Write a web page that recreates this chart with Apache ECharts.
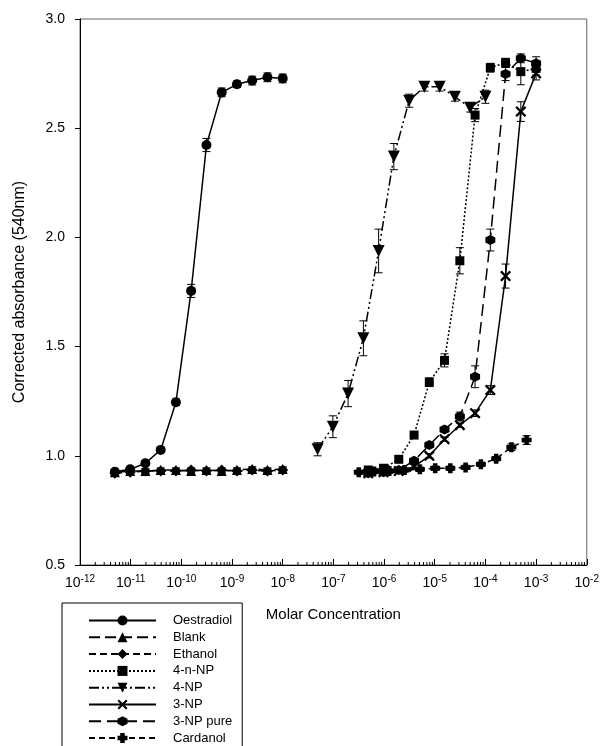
<!DOCTYPE html>
<html>
<head>
<meta charset="utf-8">
<script src="https://cdn.jsdelivr.net/npm/echarts@6/dist/echarts.min.js"></script>
<style>
  html, body { margin: 0; padding: 0; background: #fff; }
  #chart { width: 602px; height: 746px; }
</style>
</head>
<body>
<div id="chart"></div>
<script>
// concentrations (M), 2-fold dilution series
const oestradiolConc = [4.88e-12, 9.77e-12, 1.95e-11, 3.91e-11, 7.81e-11, 1.56e-10, 3.13e-10, 6.25e-10, 1.25e-9, 2.5e-9, 5e-9, 1e-8];
const fourNpConc = [4.88e-8, 9.77e-8, 1.95e-7, 3.91e-7, 7.81e-7, 1.56e-6, 3.13e-6, 6.25e-6, 1.25e-5, 2.5e-5, 5e-5, 1e-4];
const npConc = [4.88e-7, 9.77e-7, 1.95e-6, 3.91e-6, 7.81e-6, 1.56e-5, 3.13e-5, 6.25e-5, 1.25e-4, 2.5e-4, 5e-4, 1e-3];
const cardanolConc = [3.17e-7, 6.35e-7, 1.27e-6, 2.54e-6, 5.08e-6, 1.02e-5, 2.03e-5, 4.06e-5, 8.13e-5, 1.63e-4, 3.25e-4, 6.5e-4];

// corrected absorbance and SE
const oestradiol = [0.927, 0.938, 0.966, 1.027, 1.245, 1.755, 2.423, 2.664, 2.701, 2.718, 2.733, 2.728];
const oestradiolErr = [0.01, 0.01, 0.01, 0.01, 0.015, 0.03, 0.03, 0.02, 0.015, 0.02, 0.02, 0.02];
const blank = [0.925, 0.93, 0.93, 0.935, 0.935, 0.93, 0.935, 0.93, 0.935, 0.94, 0.935, 0.94];
const blankErr = [0.01, 0.01, 0.01, 0.01, 0.01, 0.01, 0.01, 0.01, 0.01, 0.01, 0.01, 0.01];
const ethanol = [0.92, 0.925, 0.93, 0.93, 0.93, 0.935, 0.93, 0.935, 0.93, 0.935, 0.93, 0.935];
const ethanolErr = [0.01, 0.01, 0.01, 0.01, 0.01, 0.01, 0.01, 0.01, 0.01, 0.01, 0.01, 0.01];
const fourNNp = [0.935, 0.943, 0.984, 1.095, 1.337, 1.437, 1.893, 2.56, 2.777, 2.80, 2.759, 2.774];
const fourNNpErr = [0.01, 0.01, 0.01, 0.015, 0.02, 0.03, 0.06, 0.03, 0.02, 0.02, 0.06, 0.03];
const fourNp = [1.03, 1.133, 1.285, 1.538, 1.938, 2.37, 2.626, 2.69, 2.69, 2.644, 2.594, 2.644];
const fourNpErr = [0.03, 0.05, 0.06, 0.08, 0.1, 0.06, 0.03, 0.02, 0.02, 0.02, 0.02, 0.03];
const threeNp = [0.92, 0.925, 0.93, 0.95, 1.0, 1.076, 1.14, 1.195, 1.301, 1.823, 2.576, 2.751];
const threeNpErr = [0.01, 0.01, 0.01, 0.01, 0.01, 0.01, 0.01, 0.015, 0.02, 0.055, 0.045, 0.03];
const threeNpPure = [0.92, 0.925, 0.935, 0.977, 1.049, 1.12, 1.18, 1.362, 1.988, 2.748, 2.82, 2.797];
const threeNpPureErr = [0.01, 0.01, 0.01, 0.01, 0.01, 0.01, 0.02, 0.05, 0.05, 0.03, 0.02, 0.03];
const cardanol = [0.925, 0.928, 0.93, 0.935, 0.938, 0.943, 0.943, 0.947, 0.961, 0.987, 1.039, 1.072];
const cardanolErr = [0.01, 0.01, 0.01, 0.01, 0.01, 0.01, 0.01, 0.01, 0.01, 0.01, 0.015, 0.02];

const xDecades = [-12, -11, -10, -9, -8, -7, -6, -5, -4, -3, -2];

const FONT = "'Liberation Sans', Arial, sans-serif";

const symX = 'path://M-4,-2.8 L-2.8,-4 L0,-1.2 L2.8,-4 L4,-2.8 L1.2,0 L4,2.8 L2.8,4 L0,1.2 L-2.8,4 L-4,2.8 L-1.2,0 Z';
const symHex = 'path://M0,-10 L8.7,-5 L8.7,5 L0,10 L-8.7,5 L-8.7,-5 Z';
const symPlus = 'path://M-1.8,-4 L1.8,-4 L1.8,-1.8 L4,-1.8 L4,1.8 L1.8,1.8 L1.8,4 L-1.8,4 L-1.8,1.8 L-4,1.8 L-4,-1.8 L-1.8,-1.8 Z';

const defs = [
  { name: 'Oestradiol', x: oestradiolConc, y: oestradiol, e: oestradiolErr, symbol: 'circle', size: 10, dash: 'solid' },
  { name: 'Blank', x: oestradiolConc, y: blank, e: blankErr, symbol: 'triangle', size: 10, dash: [11, 5] },
  { name: 'Ethanol', x: oestradiolConc, y: ethanol, e: ethanolErr, symbol: 'diamond', size: 11, dash: [7, 4] },
  { name: '4-n-NP', x: npConc, y: fourNNp, e: fourNNpErr, symbol: 'rect', size: 9, dash: [2, 2] },
  { name: '4-NP', x: fourNpConc, y: fourNp, e: fourNpErr, symbol: 'triangle', size: 12, rotate: 180, dash: [10, 3, 2, 3, 2, 3] },
  { name: '3-NP', x: npConc, y: threeNp, e: threeNpErr, symbol: symX, size: 11, dash: 'solid' },
  { name: '3-NP pure', x: npConc, y: threeNpPure, e: threeNpPureErr, symbol: symHex, size: 10, dash: [12, 6] },
  { name: 'Cardanol', x: cardanolConc, y: cardanol, e: cardanolErr, symbol: symPlus, size: 10, dash: [6, 4] }
];

const series = [];
defs.forEach(d => {
  series.push({
    name: d.name + ' err',
    type: 'custom',
    z: 1,
    silent: true,
    encode: { x: 0, y: [1, 2] },
    data: d.x.map((c, i) => [c, d.y[i] - d.e[i], d.y[i] + d.e[i]]),
    renderItem: (params, api) => {
      const lo = api.coord([api.value(0), api.value(1)]);
      const hi = api.coord([api.value(0), api.value(2)]);
      const w = 4;
      const st = { stroke: '#000', lineWidth: 1 };
      return {
        type: 'group',
        children: [
          { type: 'line', shape: { x1: lo[0], y1: lo[1], x2: hi[0], y2: hi[1] }, style: st },
          { type: 'line', shape: { x1: lo[0] - w, y1: lo[1], x2: lo[0] + w, y2: lo[1] }, style: st },
          { type: 'line', shape: { x1: hi[0] - w, y1: hi[1], x2: hi[0] + w, y2: hi[1] }, style: st }
        ]
      };
    }
  });
  series.push({
    name: d.name,
    type: 'line',
    z: 3,
    data: d.x.map((c, i) => [c, d.y[i]]),
    symbol: d.symbol,
    symbolSize: d.size,
    symbolRotate: d.rotate || 0,
    showAllSymbol: true,
    animation: false,
    lineStyle: { color: '#000', width: 1.5, type: d.dash },
    itemStyle: { color: '#000', borderWidth: 0 }
  });
});

// minor ticks on the log x axis (2..9 in every decade)
const minorTicks = [];
xDecades.slice(0, -1).forEach(n => {
  for (let k = 2; k <= 9; k++) minorTicks.push([k * Math.pow(10, n), 0.5]);
});
series.push({
  name: 'minor',
  type: 'custom',
  silent: true,
  z: 5,
  data: minorTicks,
  renderItem: (params, api) => {
    const p = api.coord([api.value(0), api.value(1)]);
    return { type: 'line', shape: { x1: p[0], y1: p[1], x2: p[0], y2: p[1] - 3 }, style: { stroke: '#000', lineWidth: 1 } };
  }
});

const chart = echarts.init(document.getElementById('chart'));
chart.setOption({
  animation: false,
  backgroundColor: '#fff',
  textStyle: { fontFamily: FONT, color: '#000' },
  grid: { left: 80, right: 14, top: 19, bottom: 181, show: true, borderColor: '#666', borderWidth: 1 },
  xAxis: {
    type: 'log',
    logBase: 10,
    min: 1e-12,
    max: 1e-2,
    interval: 1,
    name: 'Molar Concentration',
    nameLocation: 'middle',
    nameGap: 42,
    nameTextStyle: { fontSize: 15, color: '#000', fontFamily: FONT },
    axisLine: { lineStyle: { color: '#000', width: 1 } },
    axisTick: { inside: true, length: 6, lineStyle: { color: '#000' } },
    splitLine: { show: false },
    axisLabel: {
      margin: 9,
      color: '#000',
      fontSize: 14,
      fontFamily: FONT,
      formatter: v => '10{s|' + Math.round(Math.log10(v)) + '}',
      rich: { s: { fontSize: 10, fontFamily: FONT, color: '#000', padding: [0, 0, 8, 0] } }
    }
  },
  yAxis: {
    type: 'value',
    min: 0.5,
    max: 3.0,
    interval: 0.5,
    name: 'Corrected absorbance (540nm)',
    nameLocation: 'middle',
    nameGap: 52,
    nameTextStyle: { fontSize: 16, color: '#000', fontFamily: FONT },
    axisLine: { show: true, lineStyle: { color: '#000', width: 1 } },
    axisTick: { show: true, inside: false, length: 5, lineStyle: { color: '#000' } },
    splitLine: { show: false },
    axisLabel: { margin: 15, color: '#000', fontSize: 14, fontFamily: FONT, formatter: v => v.toFixed(1) }
  },
  legend: {
    orient: 'vertical',
    left: 62,
    top: 603,
    height: 300,
    padding: [11, 10, 20, 26],
    itemWidth: 67,
    itemHeight: 12.5,
    itemGap: 3.8,
    borderColor: '#000',
    borderWidth: 1,
    data: defs.map(d => d.name),
    textStyle: { fontSize: 13, color: '#000', fontFamily: FONT, padding: [0, 0, 0, 12] }
  },
  series: series
});
</script>
</body>
</html>
